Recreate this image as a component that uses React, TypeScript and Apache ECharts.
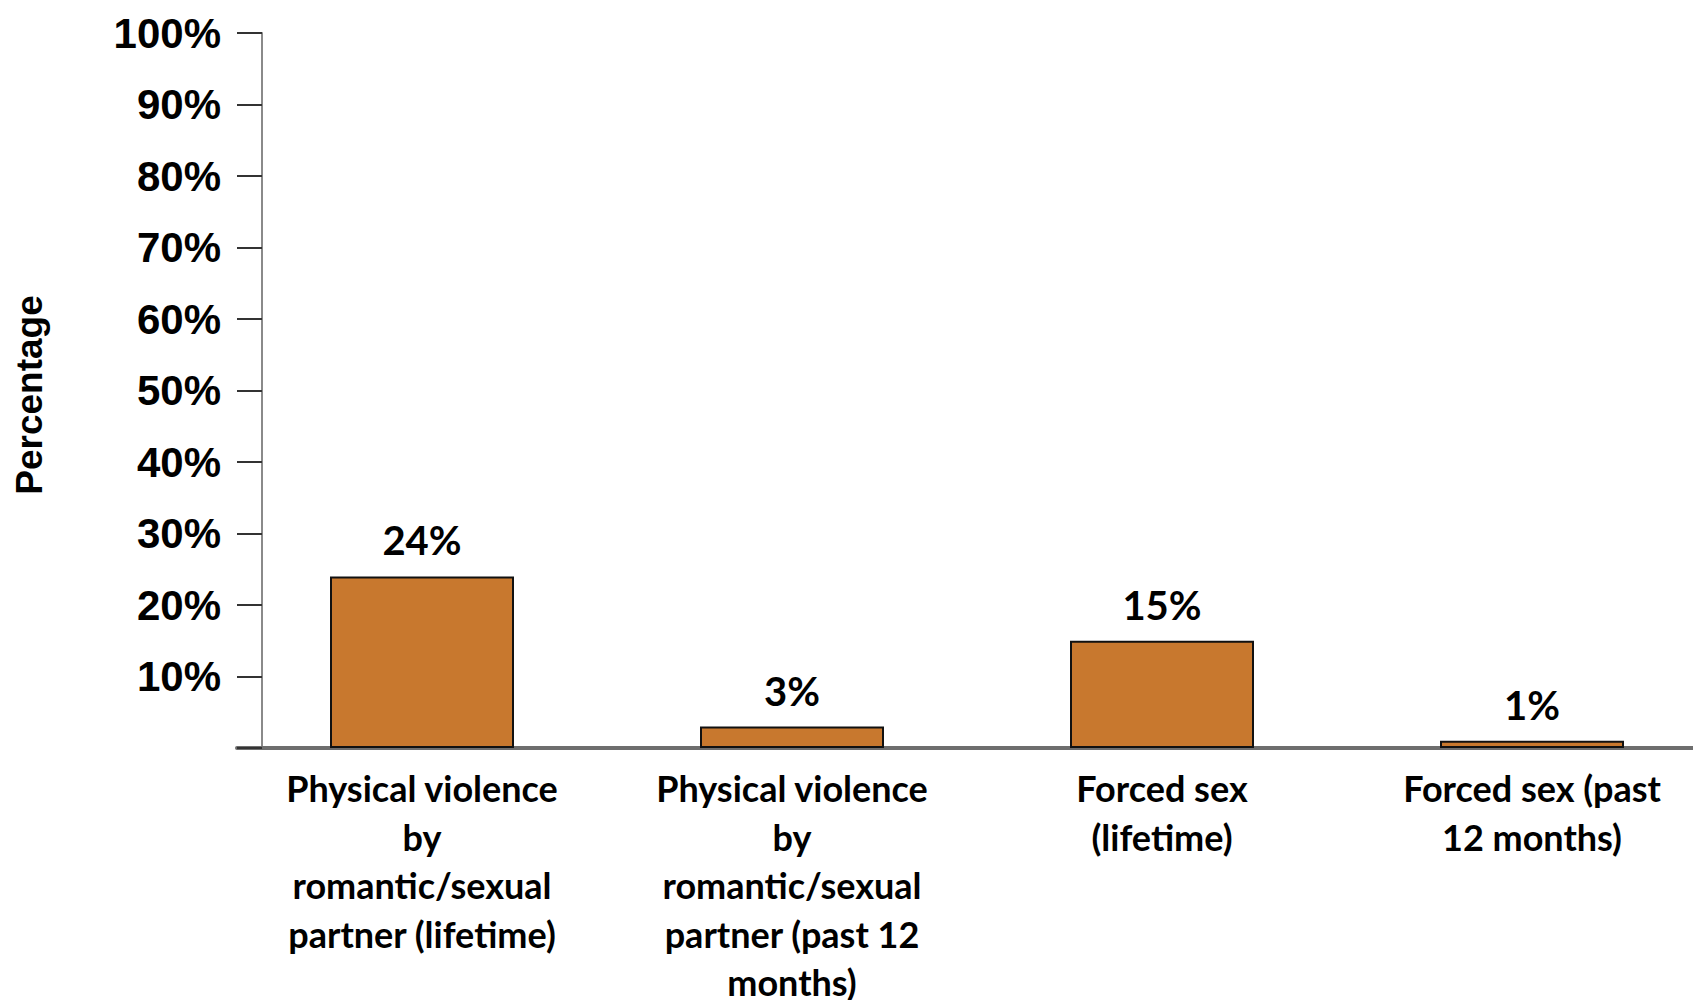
import React, { useEffect, useRef } from "react";
import * as echarts from "echarts";

const categories = [
  "Physical violence\nby\nromantic/sexual\npartner (lifetime)",
  "Physical violence\nby\nromantic/sexual\npartner (past 12\nmonths)",
  "Forced sex\n(lifetime)",
  "Forced sex (past\n12 months)",
];
const values = [24, 3, 15, 1];
const yTicks = [0, 10, 20, 30, 40, 50, 60, 70, 80, 90, 100];
const yTitle = "Percentage";

export default function App() {
  const ref = useRef<HTMLDivElement>(null);
  useEffect(() => {
    document.body.style.margin = "0";
    document.body.style.overflow = "hidden";
    if (!ref.current) return;
    const chart = echarts.init(ref.current, null, { renderer: "svg" });
    chart.setOption({
      animation: false,
      backgroundColor: "#ffffff",
      grid: { left: 237, top: 33, width: 1480, height: 715, outerBoundsMode: "none", containLabel: false },
      graphic: [
        {
          type: "text",
          x: 29,
          y: 395,
          rotation: Math.PI / 2,
          style: {
            text: yTitle,
            fontFamily: "Liberation Sans",
            fontWeight: "bold",
            fontSize: 37,
            fill: "#000",
            textAlign: "center",
            textVerticalAlign: "middle",
          },
        },
      ],
      xAxis: {
        type: "category",
        data: categories,
        axisLine: { show: true, lineStyle: { color: "#6e6e6e", width: 4 } },
        axisTick: { show: false },
        axisLabel: {
          interval: 0,
          margin: 16,
          fontFamily: "Lato",
          fontWeight: "bold",
          fontSize: 36,
          lineHeight: 48.5,
          color: "#000",
          align: "center",
        },
      },
      yAxis: {
        type: "value",
        min: yTicks[0],
        max: yTicks[yTicks.length - 1],
        interval: 10,
        offset: -25,
        axisLine: { show: true, lineStyle: { color: "#8a8a8a", width: 2 } },
        axisTick: { show: true, length: 25, lineStyle: { color: "#333", width: 2 } },
        splitLine: { show: false },
        axisLabel: {
          margin: 41,
          fontFamily: "Liberation Sans",
          fontWeight: "bold",
          fontSize: 42,
          color: "#000",
          formatter: (v: number) => (v === 0 ? "" : v + "%"),
        },
      },
      series: [
        {
          type: "bar",
          data: values,
          barWidth: 184,
          itemStyle: { color: "#C8782E", borderColor: "#111", borderWidth: 2 },
          label: {
            show: true,
            position: "top",
            distance: 16,
            fontFamily: "Lato",
            fontWeight: "bold",
            fontSize: 40,
            lineHeight: 40,
            color: "#000",
            formatter: (p: any) => p.value + "%",
          },
        },
      ],
    });
    return () => chart.dispose();
  }, []);
  return (
    <div style={{ position: "absolute", left: 0, top: 0, width: 1693, height: 1000, overflow: "hidden", background: "#fff" }}>
      <div ref={ref} style={{ position: "absolute", left: 0, top: 0, width: 1740, height: 1000 }} />
    </div>
  );
}
